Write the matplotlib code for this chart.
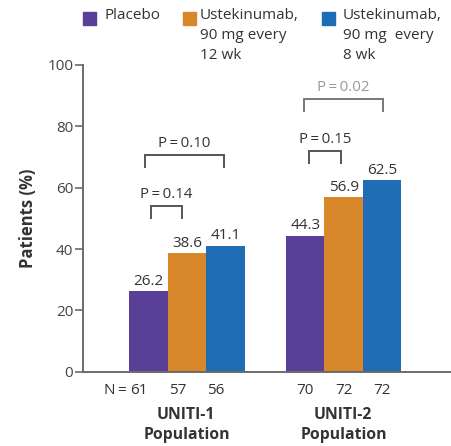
import matplotlib
matplotlib.use("Agg")
import matplotlib.pyplot as plt
from matplotlib.patches import Rectangle

# Data
group_keys = ["UNITI-1", "UNITI-2"]
group_names = ["UNITI-1", "UNITI-2"]
series_names = ["Placebo", "Ustekinumab,\n90 mg every\n12 wk", "Ustekinumab,\n90 mg  every\n8 wk"]
colors = ["#5a3f98", "#d8872b", "#1f6db4"]
values = {
    "UNITI-1": [26.2, 38.6, 41.1],
    "UNITI-2": [44.3, 56.9, 62.5],
}
n_counts = {
    "UNITI-1": ["61", "57", "56"],
    "UNITI-2": ["70", "72", "72"],
}
# (group, first bar, second bar, p label, label colour)
comparisons = [
    ("UNITI-1", 0, 1, "P=0.14", "#333333"),
    ("UNITI-1", 0, 2, "P=0.10", "#333333"),
    ("UNITI-2", 0, 1, "P=0.15", "#333333"),
    ("UNITI-2", 0, 2, "P=0.02", "#999999"),
]

W, H, DPI = 452, 446, 100
fig = plt.figure(figsize=(W / DPI, H / DPI), dpi=DPI)
plt.rcParams["font.family"] = ["Open Sans", "DejaVu Sans"]

def fx(px):
    return px / W

def fy(py):
    return 1 - py / H

ax_left, ax_right, ax_top, ax_bottom = 83, 450, 65, 371.7
ax = fig.add_axes([fx(ax_left), fy(ax_bottom), fx(ax_right - ax_left), fy(ax_top) - fy(ax_bottom)])

group_offsets = [0.0, 4.07]
n_shift = [-0.24, 0.0]
bar_w = 1.0
axis_grey = "#6b6b6b"
text_dark = "#333333"

for gk, off in zip(group_keys, group_offsets):
    for i, v in enumerate(values[gk]):
        x = off + i
        ax.bar(x, v, width=bar_w, color=colors[i], edgecolor="none", zorder=2)
        ax.text(x, v + 0.8, f"{v:.1f}", ha="center", va="bottom", fontsize=11,
                color=text_dark)

# significance brackets
bracket_levels = {
    ("UNITI-1", 1): 53.9, ("UNITI-1", 2): 70.5,
    ("UNITI-2", 1): 72.1, ("UNITI-2", 2): 88.8,
}
bracket_x = {
    ("UNITI-1", 1): (0.06, 0.87), ("UNITI-1", 2): (-0.09, 1.96),
    ("UNITI-2", 1): (0.10, 0.93), ("UNITI-2", 2): (-0.03, 2.03),
}
for gk, a, b, lab, col in comparisons:
    off = group_offsets[group_keys.index(gk)]
    top = bracket_levels[(gk, b)]
    x0, x1 = bracket_x[(gk, b)]
    x0 += off
    x1 += off
    bc = "#555555" if col == text_dark else "#777777"
    ax.plot([x0, x0, x1, x1], [top - 3.9, top, top, top - 3.9], color=bc, lw=1.4,
            solid_joinstyle="miter", clip_on=False)
    ax.text((x0 + x1) / 2, top + 1.3, lab.replace("=", "\u2009=\u2009"), ha="center",
            va="bottom", fontsize=10.8, color=col)

ax.set_xlim(-1.70, 7.83)
ax.set_ylim(0, 100)
ax.set_yticks([0, 20, 40, 60, 80, 100])
ax.tick_params(axis="y", direction="out", length=6, width=1.2, color=axis_grey,
               labelsize=11, labelcolor="#444444", pad=1)
ax.set_xticks([])
for s in ["top", "right"]:
    ax.spines[s].set_visible(False)
for s in ["left", "bottom"]:
    ax.spines[s].set_color(axis_grey)
    ax.spines[s].set_linewidth(1.4)
ax.set_ylabel("Patients (%)", fontsize=12, fontweight="bold", color=text_dark)
ax.yaxis.set_label_coords(-0.125, 0.5)

# sample sizes and group names
for gk, off, gname, ns in zip(group_keys, group_offsets, group_names, n_shift):
    for i, n in enumerate(n_counts[gk]):
        ax.text(off + i + ns, -6.0, n, ha="center", va="center", fontsize=11,
                color=text_dark, clip_on=False)
    ax.text(off + 0.98, -14.0, gname, ha="center", va="center", fontsize=11.3,
            fontweight="bold", color=text_dark, clip_on=False)
    ax.text(off + 1.0, -20.5, "Population", ha="center", va="center", fontsize=11.3,
            fontweight="bold", color=text_dark, clip_on=False)
ax.text(group_offsets[0] + n_shift[0] - 0.26, -6.0, "N\u2009=\u2009", ha="right", va="center",
        fontsize=11, color=text_dark, clip_on=False)

# legend
legend_items = [(83, 105), (183, 200), (322, 343)]
for (sx, tx), name, c in zip(legend_items, series_names, colors):
    fig.patches.append(Rectangle((fx(sx), fy(25)), fx(13), 13 / H,
                                 transform=fig.transFigure, color=c, figure=fig))
    fig.text(fx(tx), fy(8), name, ha="left", va="top", fontsize=11, color=text_dark,
             linespacing=1.45)

fig.savefig("out.png", dpi=DPI)
